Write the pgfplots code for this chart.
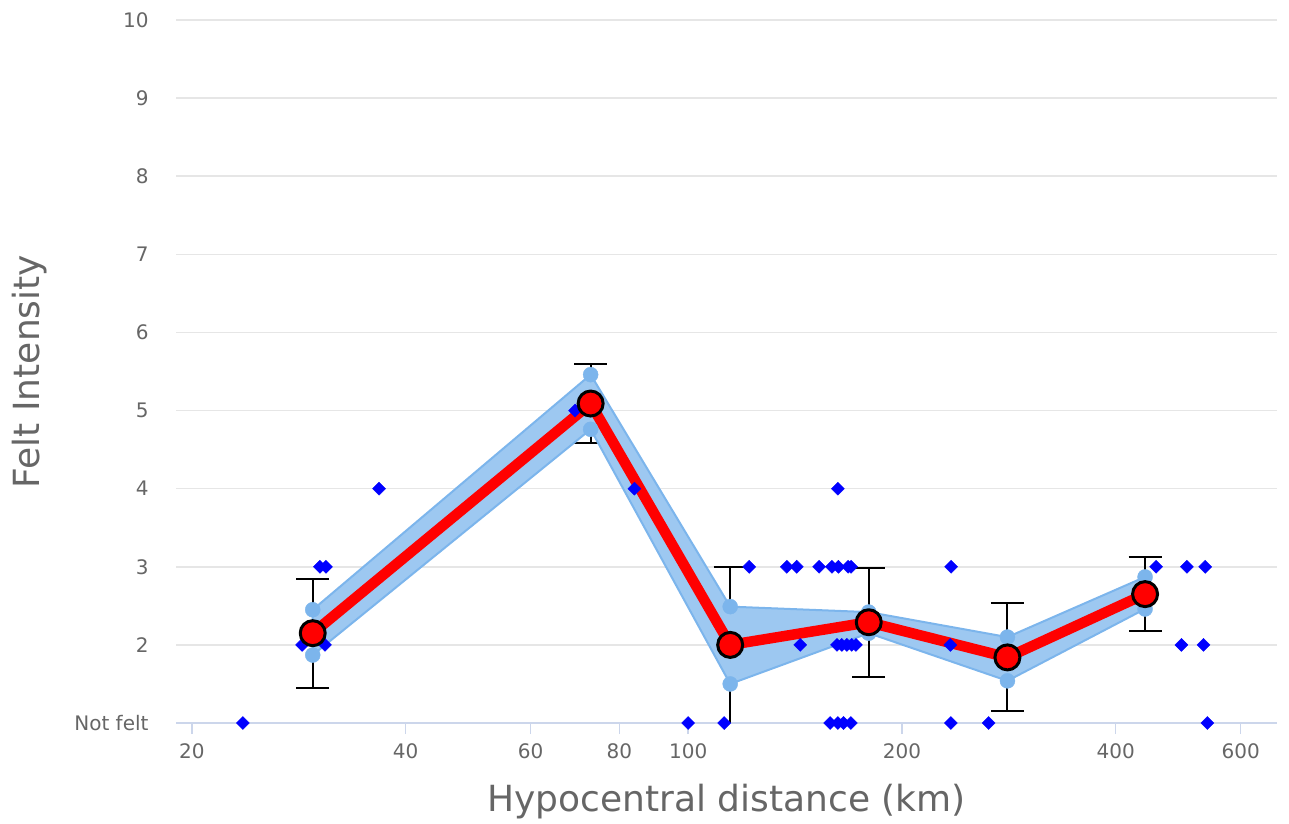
\documentclass[border=0pt]{standalone}
\usepackage{pgfplots}
\pgfplotsset{compat=1.18}
\usepackage{pgfplotstable}
\usepackage{fontspec}
\setmainfont{DejaVu Sans}

\definecolor{txtgray}{HTML}{666666}
\definecolor{gridgray}{HTML}{E6E6E6}
\definecolor{axisblue}{HTML}{CCD6EB}
\definecolor{bandline}{HTML}{7CB5EC}
\definecolor{bandfill}{HTML}{9DC8F1}
\definecolor{obsblue}{HTML}{0000FF}

% binned means: distance, intensity, error, band upper, band lower
\pgfplotstableread{
x      y      e      up     lo
29.6   2.15   0.70   2.45   1.87
72.9   5.09   0.51   5.46   4.76
114.6  2.00   1.00   2.49   1.50
179.6  2.29   0.70   2.42   2.15
281.6  1.84   0.69   2.10   1.54
440    2.65   0.47   2.87   2.46
}\means

% single reports (1 = not felt)
\pgfplotstableread{
x      y
23.6   1
100    1
112.4  1
158.5  1
162.5  1
165.5  1
169.5  1
234.4  1
264.9  1
538.6  1
28.6   2
30.8   2
143.8  2
162.0  2
164.6  2
167.3  2
170.0  2
172.3  2
234.0  2
495    2
531.8  2
30.3   3
30.9   3
121.9  3
137.7  3
142.2  3
152.9  3
159.4  3
162.8  3
168.0  3
169.6  3
234.6  3
456    3
504    3
534.8  3
36.7   4
84.0   4
162.5  4
69.3   5
}\obs

\begin{document}
\begin{tikzpicture}
\path[use as bounding box] (-176pt,-100pt) rectangle (1113pt,723pt);
\begin{axis}[
  at={(0,0)}, anchor=south west,
  scale only axis, width=1101pt, height=703pt,
  xmode=log, xmin=19, xmax=675, ymin=1, ymax=10,
  axis x line*=bottom,
  axis y line*=left,
  x axis line style={draw=axisblue, line width=2pt, -},
  y axis line style={draw=none},
  tick align=outside,
  xtick={20,40,60,80,100,200,400,600},
  xticklabels={20,40,60,80,100,200,400,600},
  xminorticks=false,
  xtick style={draw=axisblue, line width=1.5pt},
  major tick length=11pt,
  ytick={1,...,10},
  yticklabels={Not felt,2,3,4,5,6,7,8,9,10},
  ytick style={draw=none},
  ymajorgrids,
  grid style={draw=gridgray, line width=1.5pt},
  tick label style={font=\fontsize{20}{24}\selectfont, text=txtgray},
  xticklabel style={yshift=-6pt},
  yticklabel style={xshift=-13pt},
  /pgf/number format/assume math mode=true,
  xlabel={Hypocentral distance (km)},
  ylabel={Felt Intensity},
  label style={font=\fontsize{36}{42}\selectfont, text=txtgray},
  xlabel style={at={(axis description cs:0.5,-0.1115)}, anchor=center},
  ylabel style={at={(axis description cs:-0.1326,0.5)}, anchor=center},
]

% error bars (under the band)
\addplot[black, only marks, mark=none,
  error bars/.cd, y dir=plus, y explicit, error mark=|,
  error bar style={black, line width=2pt},
  error mark options={black, line width=2pt, mark size=16.5pt}]
  table[x=x, y=y, y error=e] {\means};
\addplot[black, only marks, mark=none, skip coords between index={2}{3},
  error bars/.cd, y dir=minus, y explicit, error mark=|,
  error bar style={black, line width=2pt},
  error mark options={black, line width=2pt, mark size=16.5pt}]
  table[x=x, y=y, y error=e] {\means};
\addplot[black, only marks, mark=none, skip coords between index={0}{2},
  skip coords between index={3}{6},
  error bars/.cd, y dir=minus, y explicit, error mark=none,
  error bar style={black, line width=2pt}]
  table[x=x, y=y, y error=e] {\means};

% confidence band
\addplot[fill=bandfill, draw=bandline, line width=2pt, line join=round]
  coordinates {(29.6,2.45) (72.9,5.46) (114.6,2.49) (179.6,2.42) (281.6,2.10) (440,2.87)
               (440,2.46) (281.6,1.54) (179.6,2.15) (114.6,1.50) (72.9,4.76) (29.6,1.87)} -- cycle;
\addplot[bandline, only marks, mark=*, mark size=7.5pt] table[x=x, y=up] {\means};
\addplot[bandline, only marks, mark=*, mark size=7.5pt] table[x=x, y=lo] {\means};

% single reports
\addplot[obsblue, only marks, mark=square*, mark size=4.6pt,
  mark options={rotate=45, draw=obsblue, fill=obsblue}] table[x=x, y=y] {\obs};

% mean line
\addplot[red, line width=10.5pt, line join=round, mark=*, mark size=12.5pt,
  mark options={fill=red, draw=black, line width=3pt}] table[x=x, y=y] {\means};
\end{axis}
\end{tikzpicture}
\end{document}
